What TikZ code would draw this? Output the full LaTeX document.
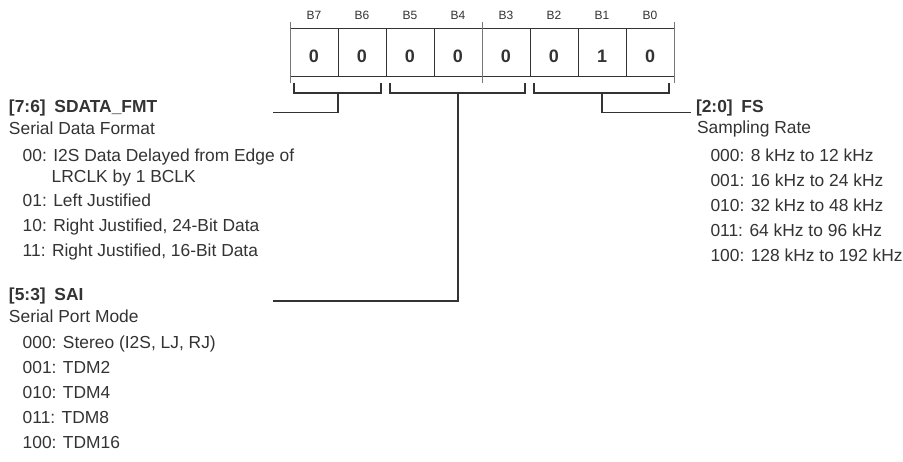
\documentclass[tikz,border=0pt]{standalone}
\usepackage{fontspec}
\setmainfont{Liberation Sans}
\definecolor{ink}{HTML}{333333}
\definecolor{tickc}{HTML}{777777}
\begin{document}
\begin{tikzpicture}[x=1pt,y=-1pt,
  every node/.style={inner sep=0pt, outer sep=0pt, text=ink},
  cell/.style={draw=ink, line width=1pt, minimum width=48pt, minimum height=48pt},
  bitlbl/.style={anchor=base, font=\fontsize{12}{14}\selectfont},
  bitval/.style={anchor=base, font=\fontsize{18}{20}\selectfont\bfseries},
  ttl/.style={anchor=base west, font=\fontsize{17.4}{20}\selectfont\bfseries},
  txt/.style={anchor=base west, font=\fontsize{17.4}{20}\selectfont},
  tickline/.style={draw=tickc, line width=0.8pt},
  brk/.style={draw=ink, line width=1.2pt, line join=miter},
]
\useasboundingbox (0,0) rectangle (903,462);

% register cells
\foreach \b/\v [count=\i from 0] in {7/0,6/0,5/0,4/0,3/0,2/0,1/1,0/0} {
  \node[cell] (c\b) at ({314+48*\i},53) {};
  \node[bitlbl] (l\b) at ({314+48*\i},19.3) {B\b};
  \node[bitval] (v\b) at ({314+48*\i},63) {\v};
}

% field boundary ticks
\coordinate (t1a) at (290,22); \coordinate (t1b) at (290,83);
\coordinate (t2a) at (482,22); \coordinate (t2b) at (482,83);
\coordinate (t3a) at (674,22); \coordinate (t3b) at (674,83);
\draw[tickline] (t1a) -- (t1b);
\draw[tickline] (t2a) -- (t2b);
\draw[tickline] (t3a) -- (t3b);

% brackets
\coordinate (b1a) at (294,83); \coordinate (b1b) at (294,93);
\coordinate (b1c) at (381,93); \coordinate (b1d) at (381,83);
\coordinate (b2a) at (390,83); \coordinate (b2b) at (390,93);
\coordinate (b2c) at (525,93); \coordinate (b2d) at (525,83);
\coordinate (b3a) at (534,83); \coordinate (b3b) at (534,93);
\coordinate (b3c) at (669,93); \coordinate (b3d) at (669,83);
\draw[brk] (b1a) -- (b1b) -- (b1c) -- (b1d);
\draw[brk] (b2a) -- (b2b) -- (b2c) -- (b2d);
\draw[brk] (b3a) -- (b3b) -- (b3c) -- (b3d);

% stems to descriptions
\coordinate (s1) at (338,93); \coordinate (e1) at (273,112.3);
\coordinate (s2) at (458,93); \coordinate (e2) at (273,301);
\coordinate (s3) at (602,93); \coordinate (e3) at (691,112.3);
\draw[brk] (s1) |- (e1);
\draw[brk] (s2) |- (e2);
\draw[brk] (s3) |- (e3);

% SDATA_FMT
\node[ttl] (sdt) at (9,112.3) {[7:6]\hspace{0.5em}SDATA\_FMT};
\node[txt] (sds) at (9,134.5) {Serial Data Format};
\node[txt] (sd0) at (22.7,161.5) {00: I2S Data Delayed from Edge of};
\node[txt] (sd0b) at (51.7,182.5) {LRCLK by 1 BCLK};
\node[txt] (sd1) at (22.7,207) {01: Left Justified};
\node[txt] (sd2) at (22.7,232) {10: Right Justified, 24-Bit Data};
\node[txt] (sd3) at (22.7,257) {11: Right Justified, 16-Bit Data};

% SAI
\node[ttl] (sat) at (9,300.5) {[5:3]\hspace{0.5em}SAI};
\node[txt] (sas) at (9,322.5) {Serial Port Mode};
\node[txt] (sa0) at (22.7,349) {000: Stereo (I2S, LJ, RJ)};
\node[txt] (sa1) at (22.7,374) {001: TDM2};
\node[txt] (sa2) at (22.7,399) {010: TDM4};
\node[txt] (sa3) at (22.7,424) {011: TDM8};
\node[txt] (sa4) at (22.7,449) {100: TDM16};

% FS
\node[ttl] (fst) at (696,112.3) {[2:0]\hspace{0.5em}FS};
\node[txt] (fss) at (697,134) {Sampling Rate};
\node[txt] (fs0) at (710.5,161.5) {000: 8 kHz to 12 kHz};
\node[txt] (fs1) at (710.5,186.5) {001: 16 kHz to 24 kHz};
\node[txt] (fs2) at (710.5,211.5) {010: 32 kHz to 48 kHz};
\node[txt] (fs3) at (710.5,236.5) {011: 64 kHz to 96 kHz};
\node[txt] (fs4) at (710.5,261.5) {100: 128 kHz to 192 kHz};
\end{tikzpicture}
\end{document}
